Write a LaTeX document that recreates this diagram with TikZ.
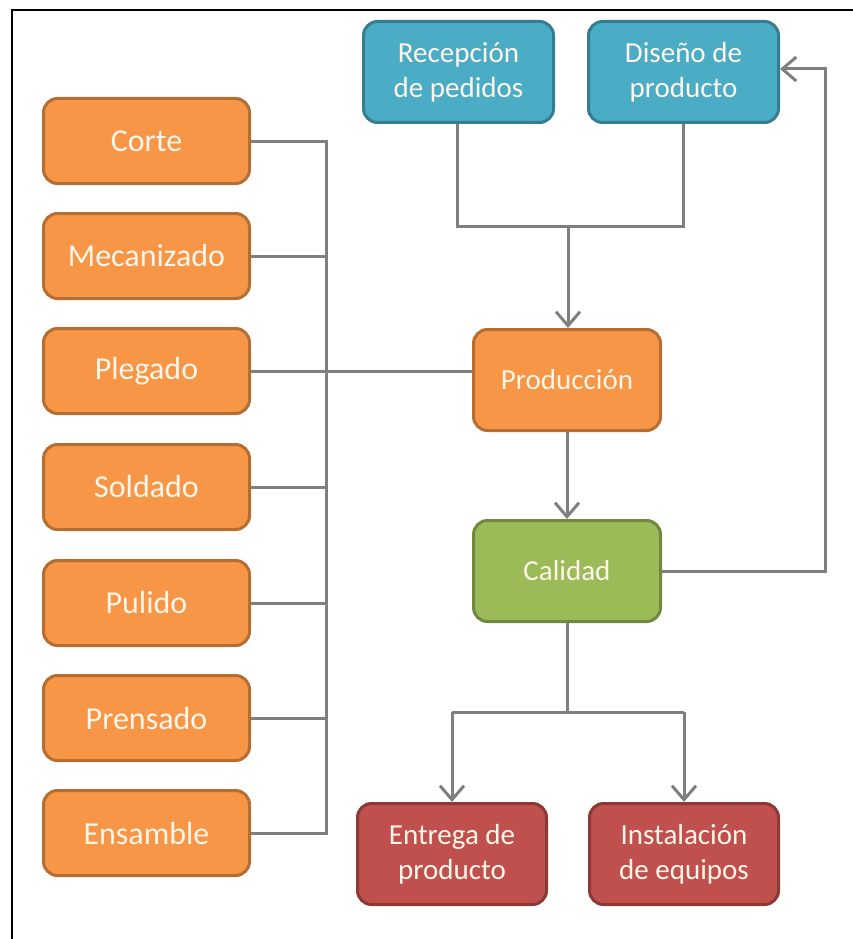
\documentclass[tikz,border=0pt]{standalone}
\usepackage{fontspec}
\setmainfont{Carlito}
\usetikzlibrary{arrows.meta}
\definecolor{orfill}{HTML}{F79646}
\definecolor{ordraw}{HTML}{B66D31}
\definecolor{blfill}{HTML}{4BACC6}
\definecolor{bldraw}{HTML}{357D91}
\definecolor{grfill}{HTML}{9BBB59}
\definecolor{grdraw}{HTML}{71893F}
\definecolor{rdfill}{HTML}{C0504D}
\definecolor{rddraw}{HTML}{8C3836}
\definecolor{linegray}{HTML}{7F7F7F}
\definecolor{txtcol}{HTML}{FFF6EA}
\tikzset{
  box/.style={rounded corners=14pt, line width=3pt, align=center, inner sep=0pt,
    text=txtcol, font=\fontsize{29}{35}\selectfont},
  leftbox/.style={box, fill=orfill, draw=ordraw, minimum width=206pt, minimum height=85pt,
    font=\fontsize{32}{36}\selectfont},
  bluebox/.style={box, fill=blfill, draw=bldraw, minimum width=190pt, minimum height=101pt},
  orbox/.style={box, fill=orfill, draw=ordraw, minimum width=187pt, minimum height=101pt},
  grbox/.style={box, fill=grfill, draw=grdraw, minimum width=187pt, minimum height=101pt},
  rdbox/.style={box, fill=rdfill, draw=rddraw, minimum width=189pt, minimum height=101pt},
  conn/.style={draw=linegray, line width=3pt},
  arr/.style={conn, -{Straight Barb[length=14pt,width=24pt,line width=3pt]}}
}
\begin{document}
\begin{tikzpicture}[x=1pt,y=-1pt]
\useasboundingbox (0,0) rectangle (853,939);
% frame (top and left edges only visible)
\draw[line width=2pt, black] (11.5,939) -- (11.5,10.5) -- (853,10.5);

% left column
\node[leftbox] (corte) at (146.5,141) {Corte};
\node[leftbox] (meca) at (146.5,256) {Mecanizado};
\node[leftbox] (pleg) at (146.5,371) {Plegado};
\node[leftbox] (sold) at (146.5,487) {Soldado};
\node[leftbox] (puli) at (146.5,603) {Pulido};
\node[leftbox] (pren) at (146.5,718) {Prensado};
\node[leftbox] (ensa) at (146.5,833) {Ensamble};

% top boxes
\node[bluebox] (rece) at (458.5,72) {Recepción\\de pedidos};
\node[bluebox] (dise) at (683.5,72) {Diseño de\\producto};

% center
\node[orbox] (prod) at (567,380) {Producción};
\node[grbox] (cali) at (567,571) {Calidad};

% bottom
\node[rdbox] (entr) at (452,854) {Entrega de\\producto};
\node[rdbox] (inst) at (684,854) {Instalación\\de equipos};

% coordinates
\coordinate (busx) at (326,0);
\coordinate (join) at (568,226);
\coordinate (split) at (567,712);
\coordinate (loopx) at (825,0);

% bus from left boxes
\draw[conn] (corte.east) -- (corte.east -| busx) -- (ensa.east -| busx) -- (ensa.east);
\draw[conn] (meca.east) -- (meca.east -| busx);
\draw[conn] (sold.east) -- (sold.east -| busx);
\draw[conn] (puli.east) -- (puli.east -| busx);
\draw[conn] (pren.east) -- (pren.east -| busx);
\draw[conn] (pleg.east) -- (pleg.east -| prod.west);

% top merge
\draw[conn] (rece.south -| 457,0) -- (457,226) -- (dise.south |- join) -- (dise.south);
\draw[arr] (join) -- (join |- prod.north);

% production to quality
\draw[arr] (prod.south) -- (cali.north);

% feedback loop
\draw[arr] (cali.east) -- (cali.east -| loopx) -- (loopx |- 0,69) -- (dise.east |- 0,69);

% split to bottom
\draw[conn] (cali.south) -- (split);
\draw[arr] (entr.north |- split) -- (entr.north);
\draw[arr] (inst.north |- split) -- (inst.north);
\draw[conn] (entr.north |- split) -- (inst.north |- split);
\end{tikzpicture}
\end{document}
